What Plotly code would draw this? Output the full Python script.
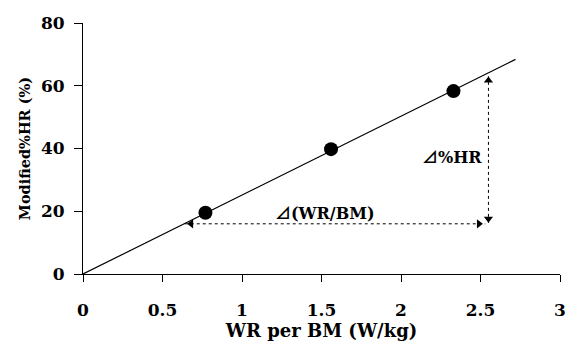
import plotly.graph_objects as go

# data
wr_per_bm = [0.77, 1.56, 2.33]
mod_hr = [19.5, 39.8, 58.3]
fit_x = [0, 2.72]
fit_y = [0, 68.4]
h_arrow_x = [0.64, 2.53]
h_arrow_y = [16, 16]
v_arrow_x = [2.55, 2.55]
v_arrow_y = [16.3, 63]
x_ticks = [0, 0.5, 1, 1.5, 2, 2.5, 3]
x_tick_labels = ["0", "0.5", "1", "1.5", "2", "2.5", "3"]
y_ticks = [0, 20, 40, 60, 80]

font_family = "DejaVu Serif"
tri = "<span style='font-family:\"Noto Sans CJK JP\"'>⊿</span>"

fig = go.Figure()
fig.add_trace(go.Scatter(x=fit_x, y=fit_y, mode="lines",
                         line=dict(color="black", width=1.2), hoverinfo="skip"))
fig.add_trace(go.Scatter(x=h_arrow_x, y=h_arrow_y, mode="lines",
                         line=dict(color="black", width=1, dash="dot")))
fig.add_trace(go.Scatter(x=v_arrow_x, y=v_arrow_y, mode="lines",
                         line=dict(color="black", width=1, dash="dot")))
fig.add_trace(go.Scatter(x=[h_arrow_x[0] + 0.04, h_arrow_x[1] - 0.04], y=h_arrow_y,
                         mode="markers",
                         marker=dict(symbol=["triangle-left", "triangle-right"],
                                     size=8, color="black")))
fig.add_trace(go.Scatter(x=v_arrow_x, y=[v_arrow_y[0] + 1.3, v_arrow_y[1] - 1.3],
                         mode="markers",
                         marker=dict(symbol=["triangle-down", "triangle-up"],
                                     size=8, color="black")))
fig.add_trace(go.Scatter(x=wr_per_bm, y=mod_hr, mode="markers",
                         marker=dict(size=14, color="black")))

label_font = dict(family=font_family, size=16, color="black")
fig.add_annotation(x=2.32, y=37.6, text="<b>" + tri + "%HR</b>", showarrow=False,
                   font=label_font)
fig.add_annotation(x=1.52, y=19.8, text="<b>" + tri + "(WR/BM)</b>", showarrow=False,
                   font=label_font)

tick_font = dict(family=font_family, size=17, color="black")
fig.update_layout(
    width=566, height=341,
    margin=dict(l=83, r=6, t=23, b=67, autoexpand=False),
    paper_bgcolor="white", plot_bgcolor="white",
    showlegend=False,
    font=tick_font,
    xaxis=dict(range=[0, 3], tickvals=x_ticks, ticktext=["<b>%s</b>" % t for t in x_tick_labels],
               showgrid=False, zeroline=False, showline=True, linecolor="black", linewidth=1,
               ticks="outside", ticklen=7, tickcolor="black", tickfont=tick_font,
               ticklabelstandoff=14, automargin=False,
               title=dict(text="<b>WR per BM (W/kg)</b>",
                          font=dict(family=font_family, size=18, color="black"), standoff=2)),
    yaxis=dict(range=[0, 80], tickvals=y_ticks, ticktext=["<b>%d</b>" % t for t in y_ticks],
               showgrid=False, zeroline=False, showline=True, linecolor="black", linewidth=1,
               ticks="outside", ticklen=8, tickcolor="black", tickfont=tick_font,
               ticklabelstandoff=6, automargin=False,
               title=dict(text="<b>Modified%HR (%)</b>",
                          font=dict(family=font_family, size=14.5, color="black"), standoff=6)),
)
fig.write_html("out.html")
